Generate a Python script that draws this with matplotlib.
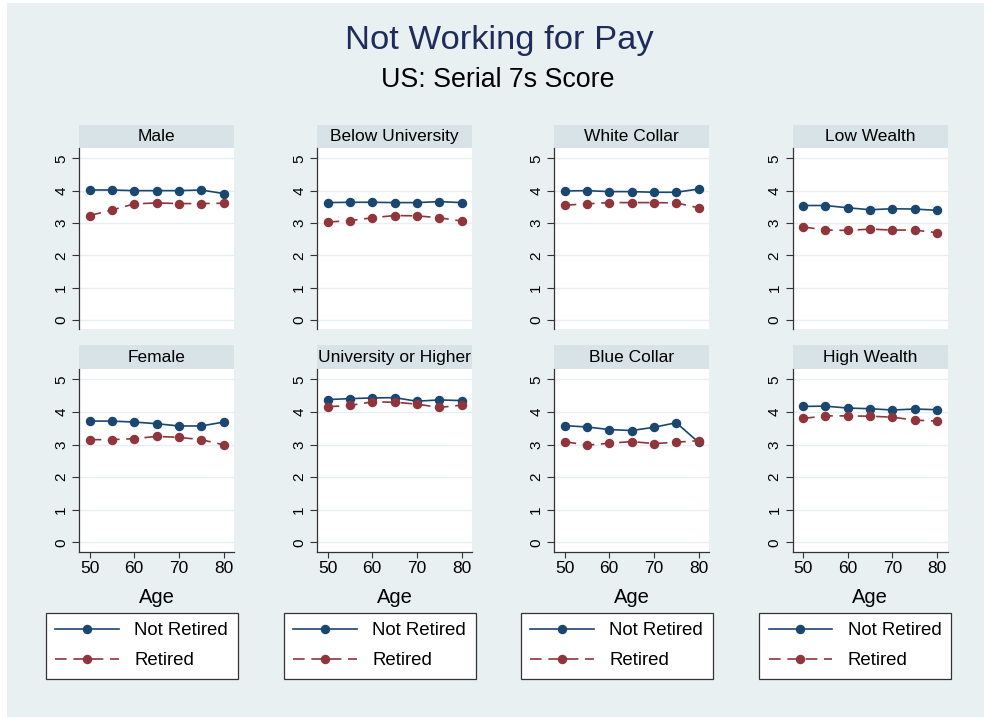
import matplotlib
matplotlib.use("Agg")
import matplotlib.pyplot as plt
from matplotlib.patches import Rectangle
from matplotlib.lines import Line2D

plt.rcParams['font.family'] = ['Liberation Sans', 'DejaVu Sans']

# Age groups on the x axis
ages = [50, 55, 60, 65, 70, 75, 80]

# Panel titles (top row, bottom row)
panels = ["Male", "Below University", "White Collar", "Low Wealth",
          "Female", "University or Higher", "Blue Collar", "High Wealth"]

# Mean Serial 7s score by age: not retired / retired
male_not_retired = [4.02, 4.02, 4.00, 4.00, 4.00, 4.02, 3.91]
male_retired = [3.23, 3.40, 3.59, 3.62, 3.60, 3.60, 3.61]
below_univ_not_retired = [3.63, 3.64, 3.64, 3.63, 3.63, 3.66, 3.63]
below_univ_retired = [3.03, 3.07, 3.16, 3.23, 3.22, 3.16, 3.06]
white_collar_not_retired = [3.99, 4.00, 3.97, 3.97, 3.95, 3.95, 4.05]
white_collar_retired = [3.55, 3.59, 3.63, 3.63, 3.63, 3.62, 3.47]
low_wealth_not_retired = [3.54, 3.54, 3.47, 3.41, 3.44, 3.43, 3.39]
low_wealth_retired = [2.88, 2.78, 2.77, 2.81, 2.78, 2.78, 2.70]
female_not_retired = [3.72, 3.72, 3.69, 3.64, 3.57, 3.57, 3.69]
female_retired = [3.15, 3.15, 3.18, 3.25, 3.22, 3.15, 2.99]
univ_not_retired = [4.38, 4.41, 4.43, 4.44, 4.33, 4.37, 4.35]
univ_retired = [4.16, 4.20, 4.31, 4.30, 4.24, 4.14, 4.21]
blue_collar_not_retired = [3.58, 3.54, 3.46, 3.43, 3.53, 3.67, 3.07]
blue_collar_retired = [3.09, 2.98, 3.04, 3.09, 3.03, 3.07, 3.12]
high_wealth_not_retired = [4.17, 4.18, 4.12, 4.10, 4.06, 4.09, 4.07]
high_wealth_retired = [3.80, 3.88, 3.88, 3.87, 3.84, 3.75, 3.72]

series = [
    (male_not_retired, male_retired),
    (below_univ_not_retired, below_univ_retired),
    (white_collar_not_retired, white_collar_retired),
    (low_wealth_not_retired, low_wealth_retired),
    (female_not_retired, female_retired),
    (univ_not_retired, univ_retired),
    (blue_collar_not_retired, blue_collar_retired),
    (high_wealth_not_retired, high_wealth_retired),
]

y_ticks = [0, 1, 2, 3, 4, 5]
x_ticks = [50, 60, 70, 80]
legend_labels = ["Not Retired", "Retired"]

NAVY = "#1a476f"
MAROON = "#90353b"
BG = "#e9f0f2"
STRIP = "#d8e3e8"
GRID = "#e6eef0"
TITLE = "#1f2c5b"

W, H = 984, 717
fig = plt.figure(figsize=(W / 100, H / 100), dpi=100, facecolor="white")

# graph region
fig.patches.append(Rectangle((7 / W, 0), 1 - 7 / W, 1 - 3 / H,
                             transform=fig.transFigure, facecolor=BG,
                             edgecolor="none", zorder=-10))

fig.text(499 / W, 1 - 40.5 / H, "Not Working for Pay", ha="center", va="center",
         fontsize=24.8, color=TITLE)
fig.text(498 / W, 1 - 80 / H, "US: Serial 7s Score", ha="center", va="center",
         fontsize=19.3, color="black")

col_left = [79.3, 317.3, 554.3, 792.7]
ax_w = 155
rows = [(148.3, 329.3, 125.0), (369.3, 551.7, 345.0)]  # plot top, plot bottom, strip top

for i, name in enumerate(panels):
    r, c = divmod(i, 4)
    top, bot, strip_top = rows[r]
    left = col_left[c]
    ax = fig.add_axes([left / W, 1 - bot / H, ax_w / W, (bot - top) / H])
    ax.set_facecolor("white")
    nr, rt = series[i]
    ax.plot(ages, nr, color=NAVY, lw=1.2, marker="o", ms=5.8, zorder=3)
    ax.plot(ages, rt, color=MAROON, lw=1.2, linestyle=(0, (7, 4)),
            marker="o", ms=5.8, zorder=3)
    ax.set_xlim(47.7, 82.4)
    ax.set_ylim(-0.29, 5.31)
    ax.set_yticks(y_ticks)
    ax.set_yticklabels([str(t) for t in y_ticks], rotation=90, va="center")
    ax.yaxis.grid(True, color=GRID, lw=1.0)
    ax.set_axisbelow(True)
    for s in ("top", "right"):
        ax.spines[s].set_visible(False)
    ax.spines["left"].set_color("#333333")
    ax.spines["left"].set_linewidth(0.9)
    ax.tick_params(axis="y", length=5, width=0.8, color="#333333",
                   labelsize=11, pad=3)
    if r == 0:
        ax.spines["bottom"].set_visible(False)
        ax.set_xticks([])
    else:
        ax.spines["bottom"].set_color("#333333")
        ax.spines["bottom"].set_linewidth(0.9)
        ax.set_xticks(x_ticks)
        ax.tick_params(axis="x", length=4, width=0.8, color="#333333",
                       labelsize=12.5, pad=3)
        ax.set_xlabel("Age", fontsize=14.5, labelpad=8)

    # panel header strip
    fig.patches.append(Rectangle((left / W, 1 - top / H), ax_w / W,
                                 (top - strip_top) / H,
                                 transform=fig.transFigure, facecolor=STRIP,
                                 edgecolor="none", zorder=-5))
    fig.text((left + ax_w / 2) / W, 1 - ((top + strip_top) / 2) / H, name,
             ha="center", va="center", fontsize=12.5, color="black")

# legend below each column
handles = [
    Line2D([], [], color=NAVY, lw=1.2, marker="o", ms=5.8),
    Line2D([], [], color=MAROON, lw=1.2, linestyle=(0, (7, 4)), marker="o", ms=5.8),
]
for c in range(4):
    cx = (col_left[c] + ax_w / 2 - 15) / W
    leg = fig.legend(handles, legend_labels, loc="upper center",
                     bbox_to_anchor=(cx, 1 - 613 / H), fontsize=13.4,
                     frameon=True, fancybox=False, edgecolor="#333333",
                     facecolor="white", framealpha=1, handlelength=3.4,
                     handletextpad=0.85, borderpad=0.5, labelspacing=0.7,
                     borderaxespad=0)
    leg.get_frame().set_linewidth(0.9)

fig.savefig("out.png", dpi=100, facecolor="white")
